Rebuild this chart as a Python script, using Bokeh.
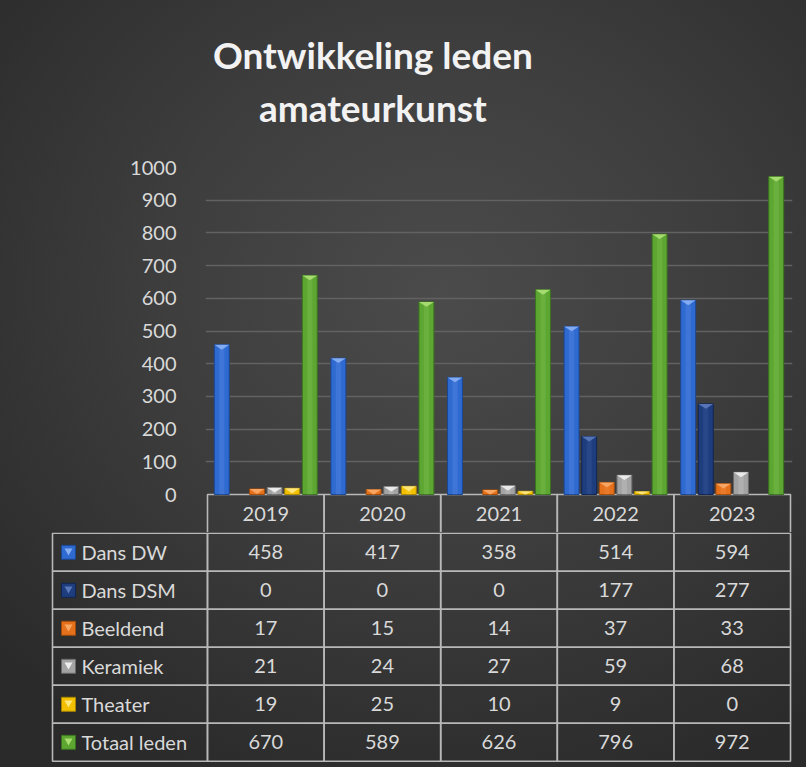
from bokeh.plotting import figure
from bokeh.models import Range1d, FixedTicker, Label, ColumnDataSource
from bokeh.embed import file_html
from bokeh.resources import INLINE
from bokeh.core.properties import value

# ---------------- data ----------------
years = ["2019", "2020", "2021", "2022", "2023"]
series = ["Dans DW", "Dans DSM", "Beeldend", "Keramiek", "Theater", "Totaal leden"]
dans_dw = [458, 417, 358, 514, 594]
dans_dsm = [0, 0, 0, 177, 277]
beeldend = [17, 15, 14, 37, 33]
keramiek = [21, 24, 27, 59, 68]
theater = [19, 25, 10, 9, 0]
totaal_leden = [670, 589, 626, 796, 972]
y_ticks = [0, 100, 200, 300, 400, 500, 600, 700, 800, 900, 1000]
title_lines = ["Ontwikkeling leden", "amateurkunst"]

values = [dans_dw, dans_dsm, beeldend, keramiek, theater, totaal_leden]

# ---------------- style ----------------
fill_cols = ["#2F6AD0", "#1E3D7E", "#E6711D", "#A3A3A3", "#F2C000", "#5DA632"]
edge_cols = ["#1C4793", "#112652", "#A24C0C", "#6A6A6A", "#A88600", "#3B7320"]
top_cols = ["#86AEF2", "#5877B8", "#F8A865", "#EDEDED", "#FFE780", "#A9DD72"]
TXT = "#D9D9D9"
GRID_TBL = "#B8B8B8"
FONT = "Lato"
FS = "20px"
PITCH = 0.151
BAR_W = 0.128
TRI_H = 15
BG = {"background": "radial-gradient(ellipse 75% 70% at 55% 38%, #4B4B4B 0%, #3E3E3E 45%, #2A2A2A 100%) fixed"}
W = 806
PX_X = 116.6           # pixels per category
PX_Y = 0.327           # pixels per member
ROW_PX = 38            # table row height


def clear(fig):
    fig.background_fill_alpha = 0
    fig.border_fill_alpha = 0
    fig.outline_line_color = None
    fig.styles = BG


# ---------------- title ----------------
ht = figure(width=W, height=155, x_range=Range1d(0, 1), y_range=Range1d(0, 1),
            min_border_left=0, min_border_right=0, min_border_top=0, min_border_bottom=0,
            output_backend="svg", toolbar_location=None, x_axis_location=None, y_axis_location=None)
clear(ht)
ht.grid.visible = False
for txt, yy in zip(title_lines, [0.65, 0.31]):
    ht.add_layout(Label(x=0.462, y=yy, text=txt, text_align="center", text_baseline="alphabetic",
                        text_color="#F2F2F2", text_font=FONT, text_font_style="bold",
                        text_font_size="37px"))

# ---------------- chart (with the header row of the data table) ----------------
n_years = len(years)
pad = 2 / PX_X
hdr = ROW_PX / PX_Y     # header row height in member units
p = figure(width=W, height=377, x_range=Range1d(-pad, n_years + pad),
           y_range=Range1d(-hdr, 1000),
           min_border_left=205, min_border_right=14, min_border_top=12, min_border_bottom=0,
           output_backend="svg", toolbar_location=None, x_axis_location=None)
clear(p)
p.xgrid.visible = False
p.ygrid.grid_line_color = "#626262"
p.ygrid.grid_line_width = 1.5
p.ygrid.ticker = FixedTicker(ticks=y_ticks[1:])
p.yaxis.ticker = FixedTicker(ticks=y_ticks)
p.yaxis.axis_line_color = None
p.yaxis.major_tick_line_color = None
p.yaxis.minor_tick_line_color = None
p.yaxis.major_label_text_color = TXT
p.yaxis.major_label_text_font = FONT
p.yaxis.major_label_text_font_size = FS
p.yaxis.major_label_standoff = 23

# header row of the table (its bottom line is drawn by the table figure)
p.quad(left=list(range(n_years)), right=list(range(1, n_years + 1)), top=[0] * n_years,
       bottom=[-3 * hdr] * n_years, fill_color=None, line_color=GRID_TBL, line_width=1.6)
p.text(x=[i + 0.5 for i in range(n_years)], y=[-0.52 * hdr] * n_years, text=years,
       text_align="center", text_baseline="middle", text_color=TXT,
       text_font=value(FONT), text_font_size=FS)

for j, vals in enumerate(values):
    xs = [i + 0.5 + (j - 2.5) * PITCH for i in range(n_years)]
    keep = [(x, v) for x, v in zip(xs, vals) if v > 0]
    if not keep:
        continue
    kx = [k[0] for k in keep]
    kv = [k[1] for k in keep]
    src = ColumnDataSource(dict(x=kx, top=kv))
    p.vbar(x="x", top="top", bottom=0, width=BAR_W, source=src,
           fill_color=fill_cols[j], line_color=edge_cols[j], line_width=1)
    p.vbar(x="x", top="top", bottom=0, width=BAR_W * 0.35, source=src,
           fill_color=top_cols[j], fill_alpha=0.18, line_color=None)
    txs, tys = [], []
    for x, v in zip(kx, kv):
        h = min(TRI_H, v)
        txs.append([x - BAR_W / 2, x + BAR_W / 2, x])
        tys.append([v, v, v - h])
    p.patches(txs, tys, fill_color=top_cols[j], line_color=None, fill_alpha=0.95)

# ---------------- data table body ----------------
n_rows = len(series)
T_H = 767 - 532
y_top = n_rows + 0.8 / ROW_PX
t = figure(width=W, height=T_H, x_range=Range1d(-1.432, 5.017),
           y_range=Range1d(y_top - T_H / ROW_PX, y_top),
           min_border_left=40, min_border_right=14, min_border_top=0, min_border_bottom=0,
           output_backend="svg", toolbar_location=None, x_axis_location=None, y_axis_location=None)
clear(t)
t.grid.visible = False

LBL_L = -1.329
L, R, B, T = [], [], [], []
for r in range(n_rows):
    yb = n_rows - 1 - r
    L.append(LBL_L); R.append(0); B.append(yb); T.append(yb + 1)
    for i in range(n_years):
        L.append(i); R.append(i + 1); B.append(yb); T.append(yb + 1)
t.quad(left=L, right=R, bottom=B, top=T, fill_color=None, line_color=GRID_TBL, line_width=1.6)

cx, cy, ct = [], [], []
for r, vals in enumerate(values):
    for i, v in enumerate(vals):
        cx.append(i + 0.5); cy.append(n_rows - 0.5 - r); ct.append(str(v))
t.text(x=cx, y=cy, text=ct, text_align="center", text_baseline="middle", text_color=TXT,
       text_font=value(FONT), text_font_size=FS)
# legend keys + names
ry = [n_rows - 0.5 - r for r in range(n_rows)]
t.scatter(x=[-1.192] * n_rows, y=ry, marker="square", size=14, fill_color=fill_cols,
          line_color=edge_cols, line_width=1)
t.scatter(x=[-1.192] * n_rows, y=[yy + 0.04 for yy in ry], marker="inverted_triangle", size=8,
          fill_color=top_cols, line_color=None)
t.text(x=[-1.081] * n_rows, y=ry, text=series, text_align="left", text_baseline="middle",
       text_color=TXT, text_font=value(FONT), text_font_size=FS)

open("out.html", "w").write(file_html([ht, p, t], INLINE))
